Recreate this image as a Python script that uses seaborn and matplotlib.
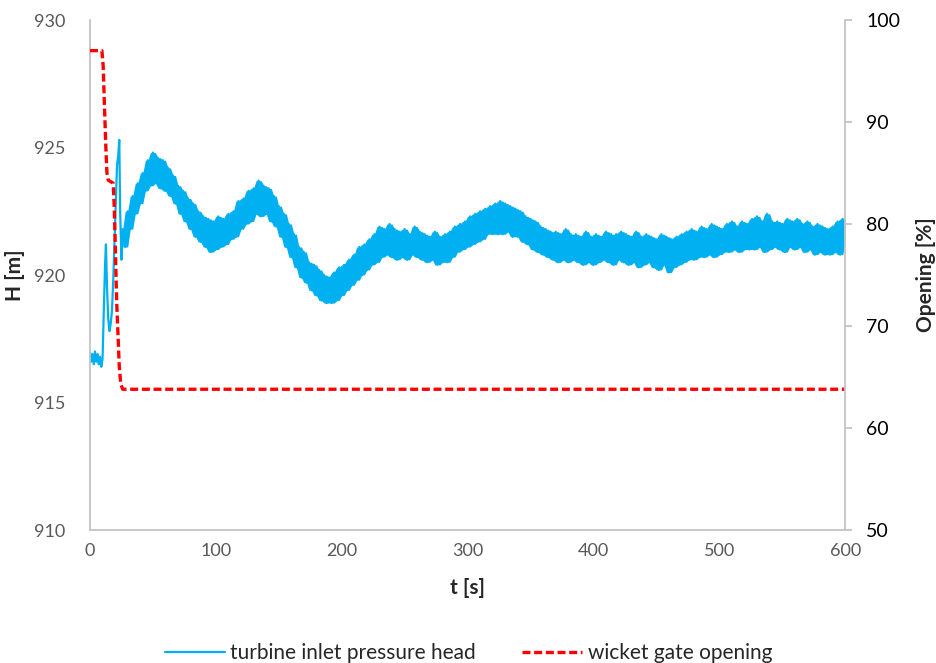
import numpy as np
import pandas as pd
import matplotlib
matplotlib.use("Agg")
import matplotlib.pyplot as plt
import seaborn as sns

# turbine inlet pressure head [m], start-up transient (dense)
t_early = [0, 1, 2, 3, 4, 5, 6, 7, 8, 9, 10, 11, 12, 12.7, 13.5, 14.5, 15.5,
           16.5, 17.5, 18.5, 19.5, 20.5, 21.5, 22.5, 23.3, 24, 25]
h_early = [917.0, 916.6, 916.9, 916.5, 917.0, 916.6, 916.9, 916.5, 916.8, 916.4,
           916.7, 918.6, 920.4, 921.2, 919.6, 918.3, 917.8, 918.1, 918.6, 919.8,
           921.3, 922.8, 924.3, 924.7, 925.3, 922.5, 920.6]

# pressure head read every 2 s from t = 26 s to 600 s (peaks and dips of the noisy trace)
h_rest = [
    921.8, 921.1, 922.5, 921.8, 923.1, 922.4, 923.6, 922.8, 924.0, 923.3,
    924.5, 923.5, 924.8, 923.6, 924.6, 923.4, 924.5, 923.3, 924.2, 923.1,
    923.9, 922.8, 923.5, 922.4, 923.3, 922.1, 923.0, 921.8, 922.8, 921.5,
    922.5, 921.3, 922.3, 921.1, 922.2, 920.9, 922.1, 921.0, 922.3, 921.1,
    922.2, 921.2, 922.4, 921.4, 922.5, 921.5, 922.9, 921.8, 923.0, 922.0,
    923.3, 922.1, 923.4, 922.4, 923.7, 922.3, 923.5, 922.4, 923.4, 922.1,
    923.1, 921.9, 922.7, 921.5, 922.4, 921.1, 922.0, 920.7, 921.6, 920.3,
    921.1, 919.9, 920.9, 919.7, 920.5, 919.4, 920.4, 919.2, 920.2, 919.0,
    920.0, 918.9, 919.9, 918.9, 920.1, 919.0, 920.3, 919.2, 920.4, 919.4,
    920.6, 919.6, 920.8, 919.8, 921.1, 920.0, 921.2, 920.2, 921.4, 920.4,
    921.6, 920.5, 921.9, 920.7, 921.8, 920.8, 922.0, 920.7, 921.8, 920.6,
    921.7, 920.7, 921.8, 920.6, 921.6, 920.8, 921.9, 920.7, 921.7, 920.6,
    921.6, 920.5, 921.5, 920.6, 921.7, 920.4, 921.5, 920.5, 921.6, 920.5,
    921.7, 920.7, 921.9, 920.9, 922.0, 921.0, 922.1, 921.1, 922.3, 921.2,
    922.4, 921.3, 922.5, 921.4, 922.6, 921.6, 922.7, 921.6, 922.8, 921.6,
    922.9, 921.6, 922.8, 921.7, 922.7, 921.5, 922.6, 921.5, 922.5, 921.3,
    922.3, 921.2, 922.2, 921.0, 922.1, 920.9, 921.9, 920.8, 921.8, 920.7,
    921.7, 920.6, 921.7, 920.5, 921.6, 920.6, 921.8, 920.5, 921.6, 920.6,
    921.6, 920.5, 921.5, 920.4, 921.7, 920.5, 921.5, 920.4, 921.6, 920.5,
    921.5, 920.6, 921.7, 920.5, 921.6, 920.4, 921.6, 920.6, 921.7, 920.5,
    921.6, 920.4, 921.5, 920.5, 921.7, 920.3, 921.5, 920.4, 921.6, 920.5,
    921.5, 920.3, 921.4, 920.2, 921.6, 920.4, 921.5, 920.1, 921.4, 920.3,
    921.5, 920.4, 921.6, 920.5, 921.7, 920.6, 921.8, 920.6, 921.7, 920.7,
    921.9, 920.7, 921.8, 920.8, 922.0, 920.7, 921.9, 920.8, 921.8, 920.9,
    922.0, 920.9, 922.1, 921.0, 921.9, 920.9, 922.1, 921.0, 922.0, 921.0,
    922.2, 921.0, 922.3, 921.1, 922.1, 920.9, 922.4, 921.0, 922.1, 921.1,
    922.1, 921.0, 922.0, 920.9, 922.2, 921.1, 922.1, 921.0, 922.2, 921.1,
    922.0, 920.9, 922.1, 921.0, 921.9, 920.8, 922.0, 920.9, 921.9, 920.8,
    921.8, 920.8, 921.9, 920.9, 922.1, 920.8, 922.2, 921.2,
]
t_rest = np.arange(26, 601, 2)

# wicket gate opening [%]
gate_t = [0, 9.5, 10.5, 11.4, 12.7, 13.5, 14.5, 18.5, 19.2, 19.9, 21.2, 23.3, 24.5, 26, 600]
gate_v = [97.0, 97.0, 95.5, 92.0, 87.3, 85.0, 84.3, 84.0, 82.0, 79.0, 72.5, 66.0, 64.3, 63.8, 63.8]

head = pd.DataFrame({"t": list(t_early) + list(t_rest), "H": h_early + h_rest})
gate = pd.DataFrame({"t": gate_t, "opening": gate_v})

# noise band of the measured trace (between local peaks and dips)
band = pd.DataFrame({"t": t_rest, "H": h_rest})
band_hi = band["H"].rolling(3, center=True, min_periods=1).max()
band_lo = band["H"].rolling(3, center=True, min_periods=1).min()

sns.set_style("white")
plt.rcParams["font.family"] = ["Lato", "DejaVu Sans"]
plt.rcParams["path.simplify"] = False

fig = plt.figure(figsize=(9.37, 6.63), dpi=100)
ax = fig.add_axes([0.096, 0.2006, 0.806, 0.7692])
ax2 = ax.twinx()

blue = "#00B0F0"
ax.fill_between(band["t"], band_lo, band_hi, color=blue, linewidth=0)
sns.lineplot(data=head, x="t", y="H", ax=ax, color=blue, linewidth=1.6,
             estimator=None, sort=False, label="turbine inlet pressure head", legend=False)
sns.lineplot(data=gate, x="t", y="opening", ax=ax2, color="#FF0000", linewidth=2.4,
             linestyle=(0, (2.4, 1.1)), estimator=None, label="wicket gate opening", legend=False)

ax.set_xlim(0, 600)
ax.set_ylim(910, 930)
ax2.set_ylim(50, 100)
ax.set_xticks(range(0, 601, 100))
ax.set_yticks(range(910, 931, 5))
ax2.set_yticks(range(50, 101, 10))

grey = "#C4C4C4"
for a in (ax, ax2):
    for s in a.spines.values():
        s.set_visible(False)
ax.spines["left"].set_visible(True)
ax.spines["bottom"].set_visible(True)
ax2.spines["right"].set_visible(True)
for s in (ax.spines["left"], ax.spines["bottom"], ax2.spines["right"]):
    s.set_color(grey)
    s.set_linewidth(1.3)

ax.tick_params(axis="y", length=0, pad=18, labelsize=13, labelcolor="#595959")
ax.tick_params(axis="x", length=0, pad=9, labelsize=13, labelcolor="#595959")
ax2.tick_params(axis="y", length=5, width=1.3, color=grey, pad=10, labelsize=14, labelcolor="black")

ax.set_xlabel("t [s]", fontsize=15, fontweight="bold", labelpad=14)
ax.set_ylabel("H [m]", fontsize=15, fontweight="bold")
ax2.set_ylabel("Opening [%]", fontsize=15, fontweight="bold")
ax.yaxis.set_label_coords(-0.086, 0.5)
ax2.yaxis.set_label_coords(1.094, 0.5)
ax.grid(False)
ax2.grid(False)

h1, l1 = ax.get_legend_handles_labels()
h2, l2 = ax2.get_legend_handles_labels()
leg = fig.legend(h1 + h2, l1 + l2, loc="lower center", bbox_to_anchor=(0.5, -0.028), ncol=2,
                 frameon=False, fontsize=15, columnspacing=2.2, handlelength=2.9, handletextpad=0.25)

fig.savefig("out.png", dpi=100)
